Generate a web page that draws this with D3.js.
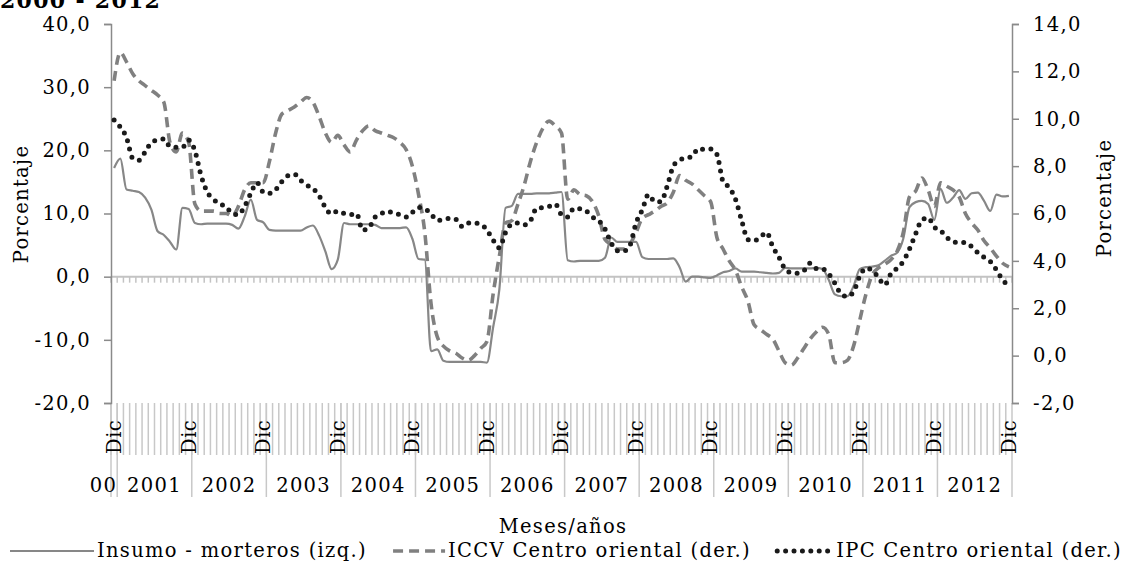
<!DOCTYPE html>
<html>
<head>
<meta charset="utf-8">
<title>Insumo morteros, ICCV e IPC Centro oriental 2000 - 2012</title>
<script src="https://d3js.org/d3.v7.min.js"></script>
<style>
  body { margin: 0; background: #fff; }
  text { font-family: "DejaVu Serif", serif; fill: #000; letter-spacing: 1.3px; }
</style>
</head>
<body>
<div id="chart"></div>
<script>
// Categories: monthly, Dic 2000 .. Dic 2012
const years = [2000, 2001, 2002, 2003, 2004, 2005, 2006, 2007, 2008, 2009, 2010, 2011, 2012];
const monthNames = ["Ene", "Feb", "Mar", "Abr", "May", "Jun", "Jul", "Ago", "Sep", "Oct", "Nov", "Dic"];
const yearLabels = ["00", "2001", "2002", "2003", "2004", "2005", "2006", "2007", "2008", "2009", "2010", "2011", "2012"];

const leftTicks = [-20, -10, 0, 10, 20, 30, 40];
const rightTicks = [-2, 0, 2, 4, 6, 8, 10, 12, 14];

// Insumo - morteros (izq.), variación anual %
const insumo = [
  17.2, 18.7, 13.8, 13.6, 13.4, 12.5, 10.6, 7.2, 6.6, 5.5, 4.3, 10.9, 10.7,
  8.5, 8.3, 8.4, 8.4, 8.4, 8.4, 8.2, 7.6, 9.5, 12.2, 9.0, 8.6,
  7.4, 7.3, 7.3, 7.3, 7.3, 7.3, 7.8, 8.1, 6.5, 4.0, 1.2, 2.7,
  8.5, 8.3, 8.3, 8.3, 8.3, 8.2, 7.7, 7.7, 7.7, 7.7, 7.8, 6.0,
  2.8, 2.7, -11.8, -11.5, -13.3, -13.5, -13.5, -13.5, -13.5, -13.5, -13.5, -13.6,
  -8.0, -2.0, 10.9, 11.2, 13.1, 13.1, 13.1, 13.2, 13.2, 13.2, 13.3, 13.4,
  2.6, 2.4, 2.5, 2.5, 2.5, 2.5, 3.0, 6.2, 5.5, 5.5, 5.5, 5.5,
  3.1, 2.8, 2.8, 2.8, 2.8, 2.9, 1.5, -0.8, 0.0, 0.0, -0.1, -0.2,
  0.2, 0.7, 0.9, 1.3, 0.8, 0.8, 0.8, 0.7, 0.6, 0.5, 0.6, 1.4,
  1.3, 1.3, 1.3, 1.3, 1.4, 1.2, -0.5, -2.8, -3.1, -3.1, -1.5, 1.2,
  1.5, 1.6, 1.8, 2.5, 3.3, 3.8, 6.0, 11.0, 11.8, 12.0, 11.5, 9.0,
  13.9, 11.7, 12.5, 13.7, 12.3, 13.2, 13.3, 12.0, 10.4, 13.0, 12.7, 12.8
];

// ICCV Centro oriental (der.)
const iccv = [
  11.6, 12.8, 12.4, 11.9, 11.6, 11.4, 11.2, 11.0, 10.7, 9.0, 8.6, 9.4, 9.0,
  6.4, 6.1, 6.1, 6.1, 6.0, 6.0, 5.9, 6.3, 7.0, 7.3, 7.3, 7.3,
  8.2, 9.4, 10.2, 10.35, 10.5, 10.7, 10.9, 10.7, 10.1, 9.4, 9.0, 9.3,
  8.9, 8.6, 9.1, 9.5, 9.7, 9.5, 9.4, 9.3, 9.2, 9.0, 8.7, 8.0,
  6.8, 5.2, 2.2, 0.8, 0.4, 0.2, 0.1, -0.1, -0.2, 0.0, 0.3, 0.6,
  2.6, 4.2, 5.6, 5.7, 6.4, 7.2, 8.2, 9.0, 9.6, 9.9, 9.7, 9.4,
  6.6, 7.0, 6.8, 6.75, 6.5, 5.9, 4.9, 4.7, 4.5, 4.5, 4.7, 5.2,
  5.8, 5.95, 6.1, 6.3, 6.45, 6.9, 7.6, 7.4, 7.25, 7.0, 6.75, 6.5,
  5.0, 4.5, 4.0, 3.6, 2.9, 2.3, 1.3, 1.1, 0.9, 0.7, 0.2, -0.3,
  -0.4, -0.1, 0.3, 0.7, 1.0, 1.2, 0.9, -0.3, -0.3, -0.2, 0.4, 1.5,
  2.6, 3.4, 3.7, 3.85, 4.05, 4.4, 5.2, 6.7, 6.95, 7.5, 7.0, 6.3,
  7.3, 7.15, 7.0, 6.7, 6.0, 5.6, 5.3, 4.85, 4.55, 4.2, 3.9, 3.75
];

// IPC Centro oriental (der.)
const ipc = [
  9.95, 9.65, 9.2, 8.33, 8.25, 8.6, 9.0, 9.1, 9.15, 8.83, 8.8, 8.8, 9.1,
  8.65, 7.6, 6.9, 6.6, 6.4, 6.3, 6.0, 5.95, 6.3, 6.85, 7.3, 6.9,
  6.85, 7.0, 7.35, 7.6, 7.66, 7.4, 7.2, 7.05, 6.75, 6.25, 5.98, 6.1,
  6.0, 5.95, 6.0, 5.3, 5.4, 5.85, 6.0, 6.1, 6.0, 5.95, 5.85, 6.05,
  6.25, 6.2, 5.98, 5.7, 5.75, 5.8, 5.75, 5.45, 5.6, 5.6, 5.55, 5.3,
  4.88, 4.55, 5.2, 5.55, 5.6, 5.52, 5.7, 6.22, 6.25, 6.3, 6.4, 5.95,
  5.85, 6.22, 6.2, 6.1, 5.85, 5.7, 5.35, 4.75, 4.43, 4.42, 4.65, 5.6,
  6.15, 6.8, 6.5, 6.5, 7.15, 8.0, 8.25, 8.35, 8.4, 8.74, 8.71, 8.72,
  8.5, 7.35, 7.1, 6.6, 5.7, 4.9, 4.85, 5.0, 5.2, 4.6, 4.15, 3.65,
  3.5, 3.48, 3.58, 3.9, 3.68, 3.66, 3.45, 3.05, 2.6, 2.5, 2.7, 3.35,
  3.69, 3.6, 3.3, 2.98, 3.45, 3.69, 3.98, 4.5, 5.15, 5.73, 5.82, 5.42,
  5.28, 5.0, 4.8, 4.78, 4.78, 4.6, 4.35, 4.15, 3.98, 3.62, 3.2, 2.95
];

// build month categories
const months = [];
years.forEach(y => monthNames.forEach((m, k) => {
  if (y === 2000 && k < 11) return;
  months.push(m + " " + y);
}));

const W = 1127, H = 564;
const plot = { left: 111, right: 1012, top: 24, bottom: 403 };
const fontSize = 19.5;

const svg = d3.select("#chart").append("svg")
  .attr("width", W).attr("height", H);

const x = d3.scaleBand().domain(months).range([plot.left, plot.right]).padding(0);
const yL = d3.scaleLinear().domain([-20, 40]).range([plot.bottom, plot.top]);
const yR = d3.scaleLinear().domain([-2, 14]).range([plot.bottom, plot.top]);
const cx = d => x(d) + x.bandwidth() / 2;
const fmt = d => d.toFixed(1).replace(".", ",");

// title (cut off at the top)
svg.append("text")
  .attr("x", 0).attr("y", 8)
  .style("font-weight", "bold").style("font-size", "22px")
  .text("2000 - 2012");

// category axis at zero with month ticks
const axisCol = "#c3c3c3";
svg.append("line")
  .attr("x1", plot.left).attr("x2", plot.right)
  .attr("y1", yL(0)).attr("y2", yL(0))
  .attr("stroke", axisCol).attr("stroke-width", 2);
svg.append("g").selectAll("line")
  .data(months.concat(["end"]))
  .join("line")
  .attr("x1", d => d === "end" ? plot.right : x(d))
  .attr("x2", d => d === "end" ? plot.right : x(d))
  .attr("y1", yL(0)).attr("y2", yL(0) + 6)
  .attr("stroke", axisCol).attr("stroke-width", 1.5);

// label area below the plot: month separators, Dic labels, year groups
const labelTop = plot.bottom;
svg.append("g").selectAll("line")
  .data(months)
  .join("line")
  .attr("x1", d => x(d)).attr("x2", d => x(d))
  .attr("y1", labelTop).attr("y2", labelTop + 52)
  .attr("stroke", "#c8c8c8").attr("stroke-width", 1.5);

const decs = months.filter(m => m.startsWith("Dic"));
svg.append("g").selectAll("line")
  .data([months[0]].concat(decs))
  .join("line")
  .attr("x1", (d, i) => i === 0 ? x(d) : x(d) + x.bandwidth())
  .attr("x2", (d, i) => i === 0 ? x(d) : x(d) + x.bandwidth())
  .attr("y1", labelTop).attr("y2", labelTop + 94)
  .attr("stroke", "#c8c8c8").attr("stroke-width", 1.5);

svg.append("g").selectAll("text")
  .data(decs)
  .join("text")
  .attr("transform", d => `translate(${cx(d)},${labelTop + 51}) rotate(-90)`)
  .attr("dy", "0.35em")
  .style("font-size", fontSize + "px")
  .style("letter-spacing", "0.5px")
  .text(d => d.split(" ")[0]);

svg.append("g").selectAll("text")
  .data(years)
  .join("text")
  .attr("x", (y, i) => {
    const ms = months.filter(m => m.endsWith(" " + y));
    if (i === 0) return x(ms[0]) + x.bandwidth();
    return (x(ms[0]) + x(ms[ms.length - 1]) + x.bandwidth()) / 2;
  })
  .attr("y", labelTop + 89)
  .attr("text-anchor", (y, i) => i === 0 ? "end" : "middle")
  .style("font-size", fontSize + "px")
  .text((y, i) => yearLabels[i]);

// left and right value axes
const axL = svg.append("g")
  .attr("transform", `translate(${plot.left},0)`)
  .call(d3.axisLeft(yL).tickValues(leftTicks).tickFormat(fmt).tickSize(7).tickPadding(13));
const axR = svg.append("g")
  .attr("transform", `translate(${plot.right},0)`)
  .call(d3.axisRight(yR).tickValues(rightTicks).tickFormat(fmt).tickSize(7).tickPadding(14));
[axL, axR].forEach(a => {
  a.select(".domain").attr("stroke", "#8a8a8a").attr("stroke-width", 1.5);
  a.selectAll(".tick line").attr("stroke", "#8a8a8a").attr("stroke-width", 1.5);
  a.selectAll(".tick text")
    .style("font-family", '"DejaVu Serif", serif')
    .style("font-size", fontSize + "px").attr("fill", "#000");
});

svg.append("text")
  .attr("transform", "translate(21,204) rotate(-90)")
  .attr("text-anchor", "middle").attr("dy", "0.35em")
  .style("font-size", fontSize + "px")
  .text("Porcentaje");
svg.append("text")
  .attr("transform", "translate(1104,198) rotate(-90)")
  .attr("text-anchor", "middle").attr("dy", "0.35em")
  .style("font-size", fontSize + "px")
  .text("Porcentaje");

// series
const lineL = d3.line().x((v, i) => cx(months[i])).y(v => yL(v)).curve(d3.curveMonotoneX);
const lineR = d3.line().x((v, i) => cx(months[i])).y(v => yR(v)).curve(d3.curveMonotoneX);

const series = [
  { name: "Insumo - morteros (izq.)", values: insumo, gen: lineL, color: "#878787", width: 2.2, dash: null, cap: "butt" },
  { name: "ICCV Centro oriental (der.)", values: iccv, gen: lineR, color: "#808080", width: 3.6, dash: "10,6", cap: "butt" },
  { name: "IPC Centro oriental (der.)", values: ipc, gen: lineR, color: "#1a1a1a", width: 5, dash: "0,8.4", cap: "round" }
];

series.forEach(s => {
  svg.append("path")
    .datum(s.values)
    .attr("d", s.gen)
    .attr("fill", "none")
    .attr("stroke", s.color)
    .attr("stroke-width", s.width)
    .attr("stroke-dasharray", s.dash)
    .attr("stroke-linecap", s.cap)
    .attr("stroke-linejoin", "round");
});

// x title
svg.append("text")
  .attr("x", 563).attr("y", 533)
  .attr("text-anchor", "middle")
  .style("font-size", fontSize + "px")
  .text("Meses/años");

// legend, spread over the full width
const legend = svg.append("g").attr("transform", "translate(0,557)");
const sampleW = [84, 52, 56];
const items = [];
let used = 0;
series.forEach((s, i) => {
  const g = legend.append("g");
  g.append("line")
    .attr("x1", 0).attr("x2", sampleW[i])
    .attr("y1", -6).attr("y2", -6)
    .attr("stroke", s.color)
    .attr("stroke-width", s.width)
    .attr("stroke-dasharray", s.dash)
    .attr("stroke-linecap", s.cap);
  const t = g.append("text")
    .attr("x", sampleW[i] + 3).attr("y", 0)
    .style("font-size", fontSize + "px")
    .text(s.name);
  const w = sampleW[i] + 3 + t.node().getComputedTextLength();
  items.push({ g, w });
  used += w;
});
const legendLeft = 10, legendRight = 1122;
const gap = (legendRight - legendLeft - used) / 2;
let lx = legendLeft;
items.forEach(it => {
  it.g.attr("transform", `translate(${lx},0)`);
  lx += it.w + gap;
});
</script>
</body>
</html>
